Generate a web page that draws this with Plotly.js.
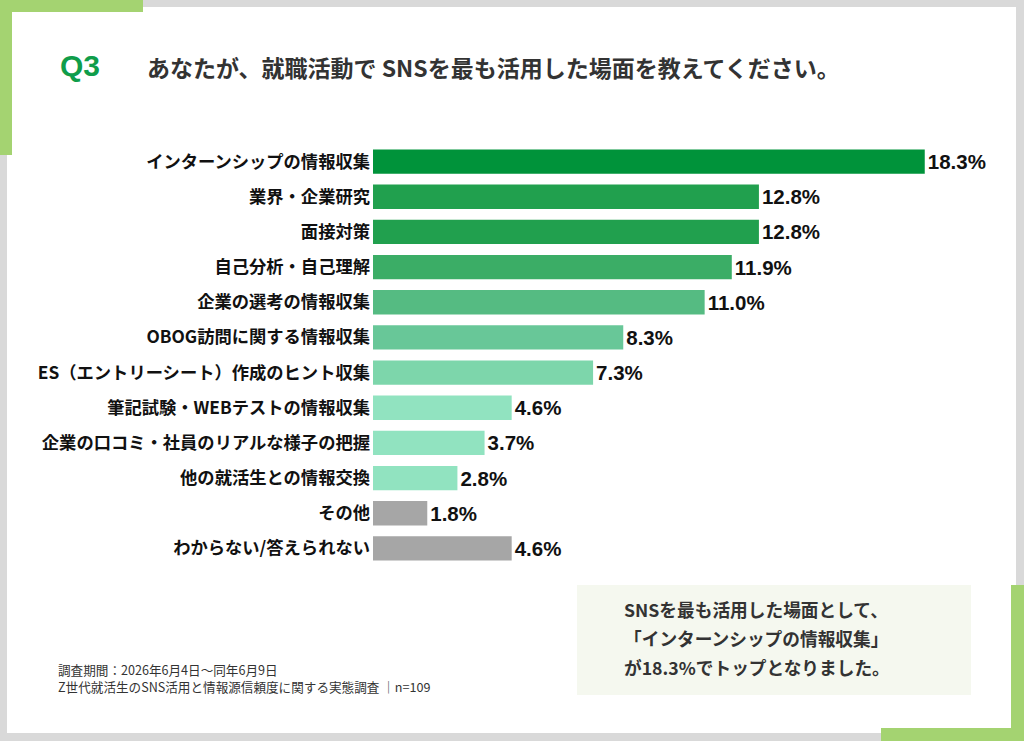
<!DOCTYPE html>
<html>
<head>
<meta charset="utf-8">
<script src="https://cdn.plot.ly/plotly-3.0.1.min.js"></script>
<style>
html,body{margin:0;padding:0;background:#fff;}
#chart{width:1024px;height:741px;}
</style>
</head>
<body>
<div id="chart"></div>
<script>
// ---- data ----
const categories = [
  "インターンシップの情報収集",
  "業界・企業研究",
  "面接対策",
  "自己分析・自己理解",
  "企業の選考の情報収集",
  "OBOG訪問に関する情報収集",
  "ES（エントリーシート）作成のヒント収集",
  "筆記試験・WEBテストの情報収集",
  "企業の口コミ・社員のリアルな様子の把握",
  "他の就活生との情報交換",
  "その他",
  "わからない/答えられない"
];
const values = [18.3, 12.8, 12.8, 11.9, 11.0, 8.3, 7.3, 4.6, 3.7, 2.8, 1.8, 4.6];
const barColors = ["#00933a", "#21a04e", "#21a04e", "#3bad66", "#55bb82", "#68c798",
                   "#7dd6ab", "#91e3c0", "#91e3c0", "#91e3c0", "#a6a6a6", "#a6a6a6"];
const titleQ = "Q3";
const titleText = "あなたが、就職活動で SNSを最も活用した場面を教えてください。";
const calloutLines = ["SNSを最も活用した場面として、", "「インターンシップの情報収集」", "が18.3%でトップとなりました。"];
const noteLines = ["調査期間：2026年6月4日～同年6月9日", "Z世代就活生のSNS活用と情報源信頼度に関する実態調査 ｜n=109"];

// ---- layout helpers (pixel -> paper) ----
const FW = 1024, FH = 741;
const M = {l: 373, r: 48, t: 144, b: 175};
const PW = FW - M.l - M.r, PH = FH - M.t - M.b;
const px = x => (x - M.l) / PW;
const py = y => 1 - (y - M.t) / PH;
function rect(x0, y0, x1, y1, color) {
  return {type: 'rect', xref: 'paper', yref: 'paper', layer: 'below',
    x0: px(x0), x1: px(x1), y0: py(y1), y1: py(y0),
    fillcolor: color, line: {width: 0}};
}

const JP = '"Noto Sans CJK JP", "Noto Sans", sans-serif';
const NUM = '"Liberation Sans", Arial, "Noto Sans CJK JP", sans-serif';

const trace = {
  type: 'bar',
  orientation: 'h',
  y: categories,
  x: values,
  marker: {color: barColors, line: {width: 0}},
  text: values.map(v => v.toFixed(1) + '%'),
  textposition: 'outside',
  textfont: {family: NUM, size: 20.5, color: '#111', weight: 'bold'},
  constraintext: 'none',
  cliponaxis: false,
  hoverinfo: 'none'
};

const shapes = [
  rect(0, 0, 1024, 741, '#d9d9d9'),
  rect(7, 7, 1016, 733, '#ffffff'),
  rect(0, 0, 143, 12, '#a4d371'),
  rect(0, 0, 12, 155, '#a4d371'),
  rect(1011, 585, 1024, 741, '#a4d371'),
  rect(881, 728, 1024, 741, '#a4d371'),
  rect(577, 585, 971, 695, '#f5f8ef')
];

const annotations = [
  {text: titleQ, x: px(58), y: py(66), xanchor: 'left', yanchor: 'middle',
   font: {family: NUM, size: 30, color: '#0f9d4a', weight: 'bold'}},
  {text: titleText, x: px(145), y: py(67), xanchor: 'left', yanchor: 'middle',
   font: {family: JP, size: 23, color: '#333333', weight: 'bold'}}
];
calloutLines.forEach((t, i) => annotations.push({
  text: t, x: px(622), y: py(609 + i * 29), xanchor: 'left', yanchor: 'middle',
  font: {family: JP, size: 17.7, color: '#333333', weight: 'bold'}
}));
noteLines.forEach((t, i) => annotations.push({
  text: t, x: px(56), y: py(669 + i * 17), xanchor: 'left', yanchor: 'middle',
  font: {family: JP, size: 12.6, color: '#333333'}
}));
annotations.forEach(a => { a.xref = 'paper'; a.yref = 'paper'; a.showarrow = false; });

const layout = {
  width: FW, height: FH,
  margin: M,
  paper_bgcolor: '#ffffff',
  plot_bgcolor: 'rgba(0,0,0,0)',
  showlegend: false,
  bargap: 0.31,
  xaxis: {range: [0, 20], visible: false, fixedrange: true},
  yaxis: {type: 'category', autorange: 'reversed', showgrid: false, zeroline: false,
          showline: false, ticks: '', ticklabelstandoff: 2, automargin: false,
          tickfont: {family: JP, size: 17.3, color: '#111111', weight: 'bold'}, fixedrange: true},
  shapes: shapes,
  annotations: annotations
};

Plotly.newPlot('chart', [trace], layout, {displayModeBar: false, staticPlot: true});
</script>
</body>
</html>
